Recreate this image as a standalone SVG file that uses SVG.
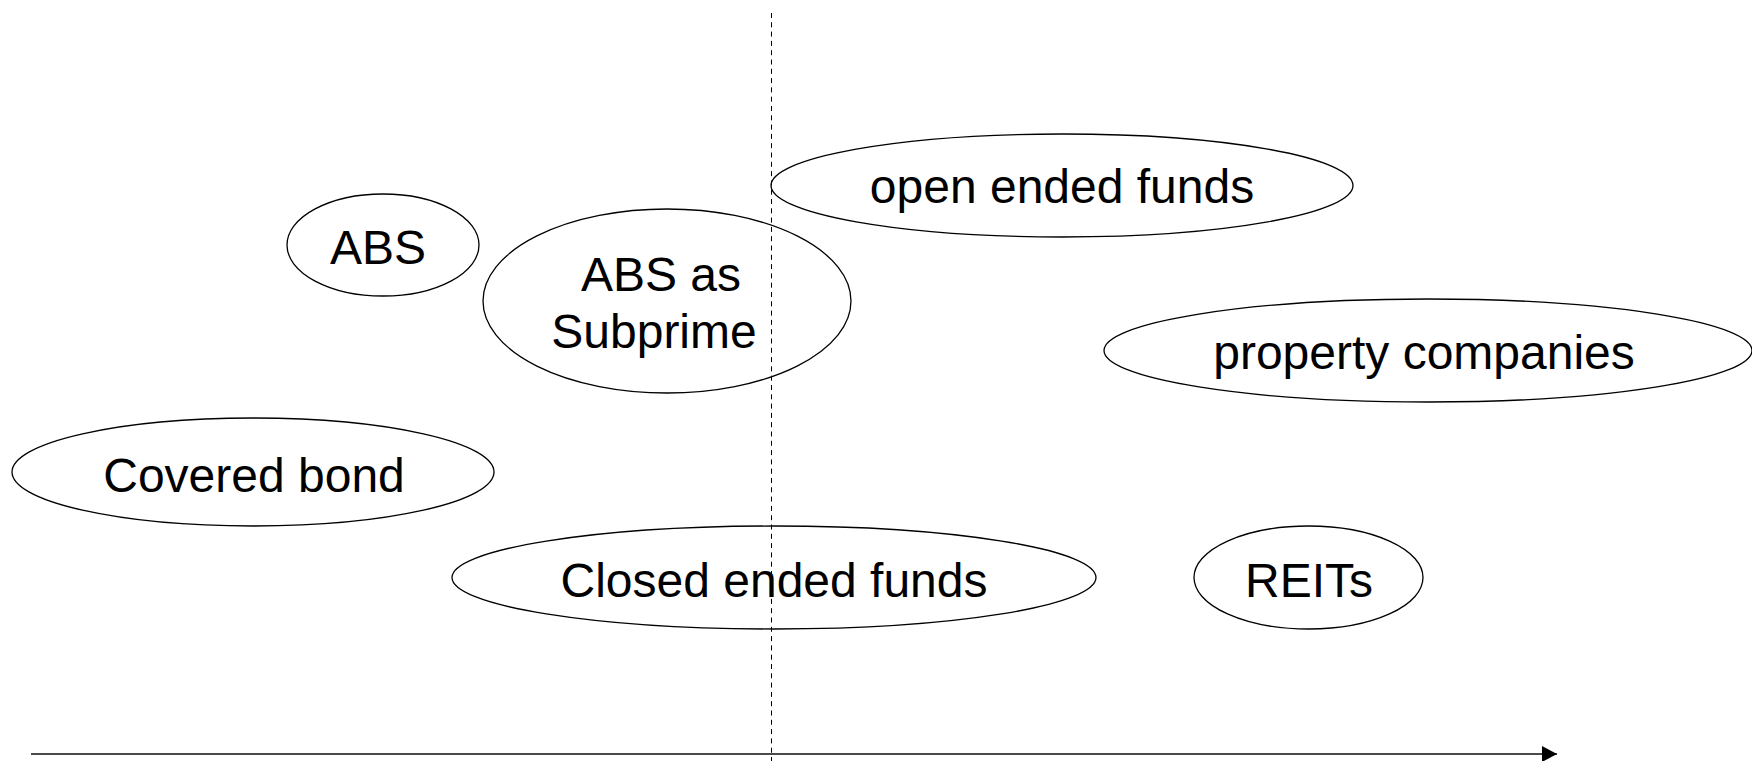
<svg xmlns="http://www.w3.org/2000/svg" width="1752" height="761" viewBox="0 0 1752 761">
<style>
.node ellipse{fill:none;stroke:#000;stroke-width:1.3}
.node text{font-family:"Liberation Sans",Arial,sans-serif;font-size:48px;fill:#000;text-anchor:middle}
.axis{stroke:#4a4a4a;stroke-width:2;fill:none}
.divider{stroke:#000;stroke-width:1;stroke-dasharray:5 4.3;fill:none}
</style>
<defs>
<marker id="arrow" viewBox="0 0 15 16" refX="15" refY="8" markerWidth="15" markerHeight="16" markerUnits="userSpaceOnUse" orient="auto">
<path d="M0,0 L15,8 L0,16 z" fill="#000"/>
</marker>
</defs>
<rect width="1752" height="761" fill="#fff"/>
<g id="connectors">
<line class="divider" x1="771.5" y1="13" x2="771.5" y2="761"/>
<line class="axis" x1="31" y1="754" x2="1557" y2="754" marker-end="url(#arrow)"/>
</g>
<g id="node-abs" class="node">
<ellipse cx="383" cy="245" rx="96" ry="51"/>
<text x="378" y="264">ABS</text>
</g>
<g id="node-abs-subprime" class="node">
<ellipse cx="667" cy="301" rx="184" ry="92"/>
<text x="661" y="291">ABS as</text>
<text x="654" y="348">Subprime</text>
</g>
<g id="node-open-ended" class="node">
<ellipse cx="1062" cy="185.5" rx="291" ry="51.5"/>
<text x="1062" y="203">open ended funds</text>
</g>
<g id="node-property" class="node">
<ellipse cx="1428" cy="350.5" rx="324" ry="51.5"/>
<text x="1424" y="369">property companies</text>
</g>
<g id="node-covered-bond" class="node">
<ellipse cx="253" cy="472" rx="241" ry="54"/>
<text x="254" y="492">Covered bond</text>
</g>
<g id="node-closed-ended" class="node">
<ellipse cx="774" cy="577.5" rx="322" ry="51.5"/>
<text x="774" y="597">Closed ended funds</text>
</g>
<g id="node-reits" class="node">
<ellipse cx="1308.5" cy="577.5" rx="114.5" ry="51.5"/>
<text x="1309" y="597">REITs</text>
</g>
</svg>
